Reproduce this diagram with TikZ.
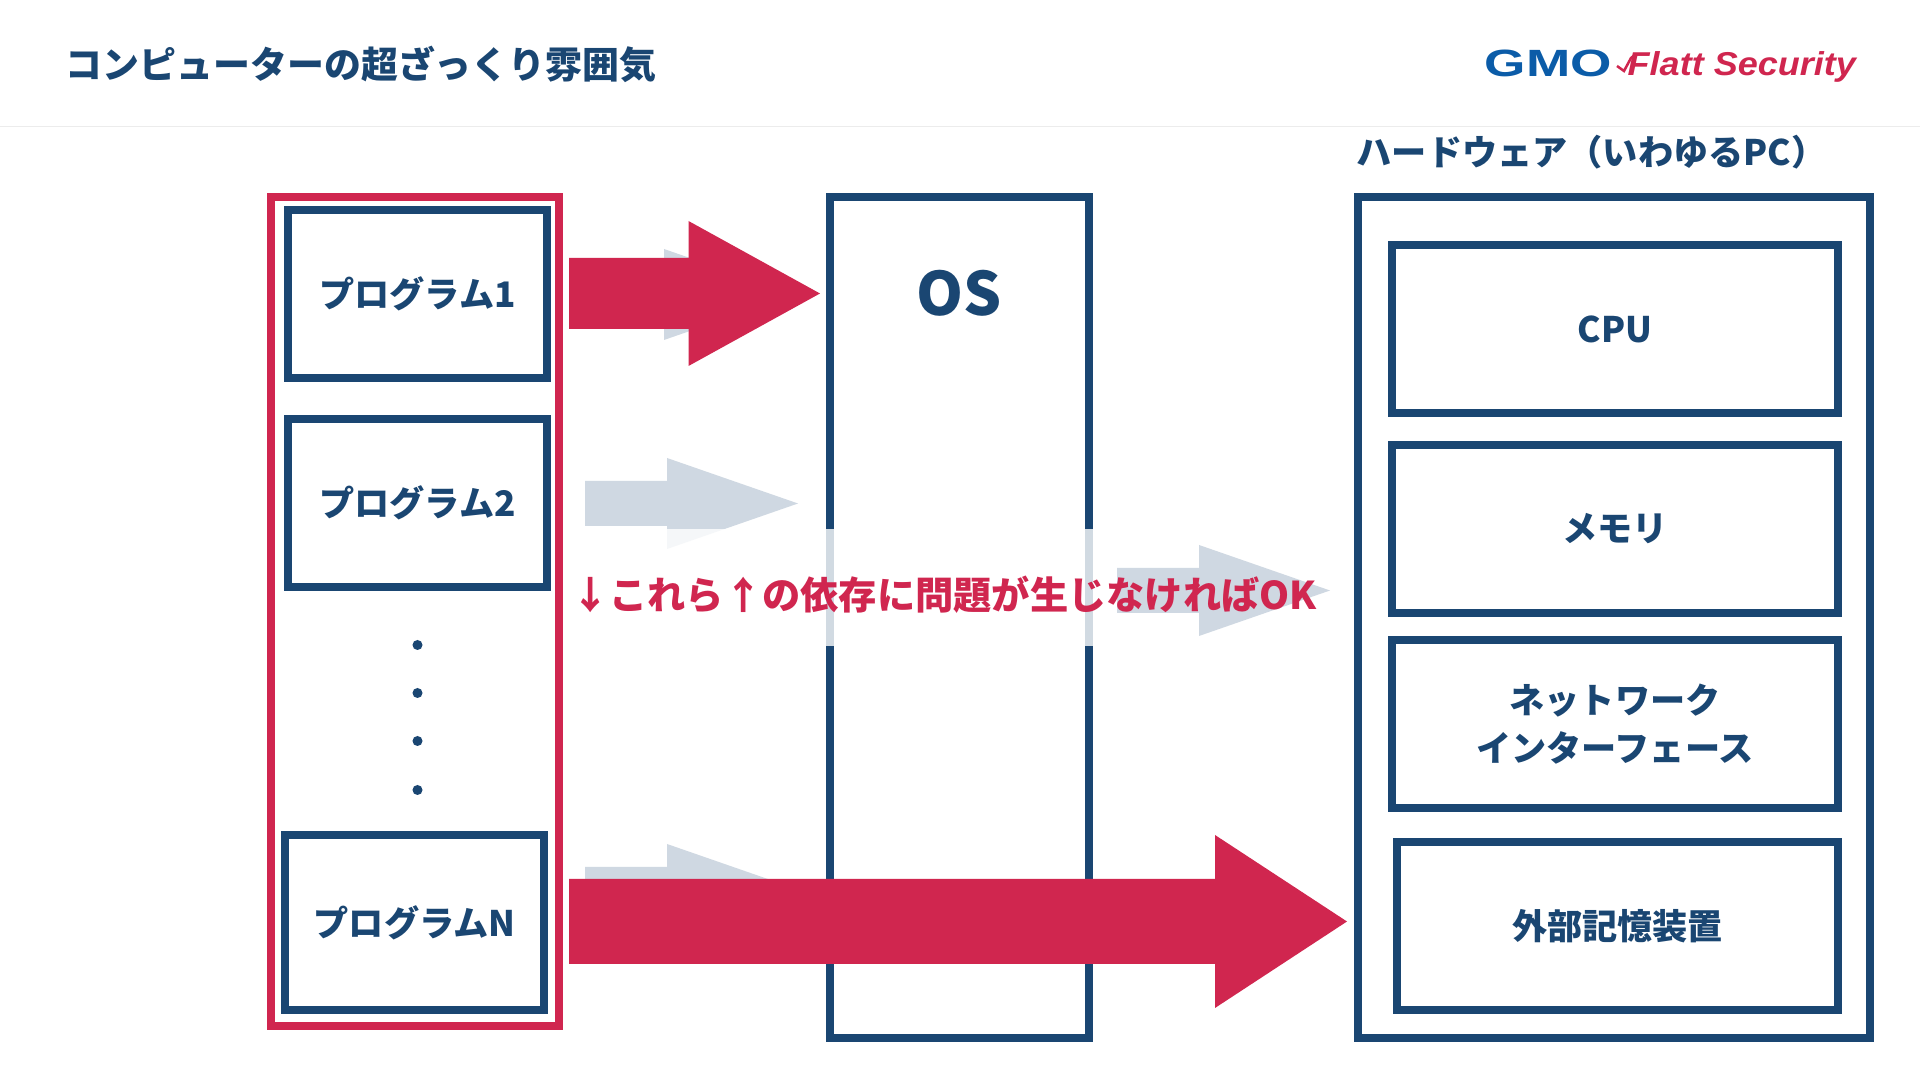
\documentclass[tikz,border=0pt]{standalone}
\usepackage{fontspec}
\usepackage{xcolor}
\setmainfont{Noto Sans CJK JP}
\newfontfamily\logofont{Liberation Sans}
\usetikzlibrary{positioning}
\definecolor{navy}{RGB}{26, 70, 114}
\definecolor{accent}{RGB}{208, 38, 79}
\definecolor{pale}{RGB}{207, 216, 226}
\definecolor{gmoblue}{RGB}{11, 92, 168}
\definecolor{headline}{RGB}{236, 236, 236}
\newcommand{\blockarrow}[7]{%
  \fill[#1] (#2,#3-#6) -- (#4,#3-#6) -- (#4,#3-#7) -- (#5,#3)
    -- (#4,#3+#7) -- (#4,#3+#6) -- (#2,#3+#6) -- cycle;}
\tikzset{
  box/.style={draw=navy, line width=0.08cm, inner sep=0pt, text=navy,
    font=\fontsize{10}{13.66}\selectfont\bfseries, align=center},
  label/.style={inner sep=0pt, text=navy, font=\fontsize{10}{13.66}\selectfont\bfseries},
  dot/.style={circle, fill=navy, inner sep=0pt, minimum size=0.1cm}
}

\begin{document}
\begin{tikzpicture}[x=0.01cm, y=-0.01cm]
  \useasboundingbox (0,0) rectangle (1920,1080);
  \fill[white] (0,0) rectangle (1920,1080);
  % header
  \node[label, anchor=west, font=\fontsize{10.5}{13}\selectfont\bfseries] (title) at (65,64) {コンピューターの超ざっくり雰囲気};
  \draw[headline, line width=0.01cm] (0,127) -- (1920,127);
  \node[anchor=west, inner sep=0pt, text=gmoblue, font=\fontsize{10.8}{12}\logofont\bfseries] (gmo) at (1484,63) {\scalebox{1.4}[1]{GMO}};
  \node[anchor=west, inner sep=0pt, text=accent, font=\fontsize{9.4}{12}\logofont\bfseries\itshape] (flatt) at (1627,67) {\scalebox{1.09}[1]{Flatt Security}};
  \draw[accent, line width=0.025cm] (1617,66) -- (1624,71) -- (1631,58) -- (1636,54);
  % grey arrows under everything
  \blockarrow{pale}{585}{294.5}{664}{795}{22}{45.5}
  \blockarrow{pale}{585}{503.5}{667}{798}{22.5}{45.5}
  \blockarrow{pale}{585}{889.5}{667}{798}{22.5}{45.5}
  % programs
  \node[draw=accent, line width=0.08cm, inner sep=0pt, minimum width=2.88cm, minimum height=8.29cm] (group) at (415,611.5) {};
  \node[box, minimum width=2.59cm, minimum height=1.68cm] (prog1) at (417.5,294) {プログラム1};
  \node[box, minimum width=2.59cm, minimum height=1.68cm] (prog2) at (417.5,503) {プログラム2};
  \node[box, minimum width=2.59cm, minimum height=1.75cm] (progn) at (414.5,922.5) {プログラムN};
  \node[dot] (dota) at (417.5,645) {};
  \node[dot] (dotb) at (417.5,693) {};
  \node[dot] (dotc) at (417.5,741) {};
  \node[dot] (dotd) at (417.5,790) {};
  % os
  \node[box, minimum width=2.585cm, minimum height=8.41cm] (os) at (959.25,617.5) {};
  \node[label, font=\fontsize{17}{20}\selectfont\bfseries] (oslabel) at (959.5,293) {OS};
  % hardware
  \node[label, anchor=west] (hwlabel) at (1356,152) {ハードウェア（いわゆるPC）};
  \node[box, minimum width=5.12cm, minimum height=8.41cm] (hw) at (1614,617.5) {};
  \node[box, minimum width=4.46cm, minimum height=1.68cm] (cpu) at (1615,329) {CPU};
  \node[box, minimum width=4.46cm, minimum height=1.68cm] (mem) at (1615,529) {メモリ};
  \node[box, minimum width=4.46cm, minimum height=1.68cm] (nic) at (1615,724) {ネットワーク\\インターフェース};
  \node[box, minimum width=4.41cm, minimum height=1.68cm] (disk) at (1617.5,926) {外部記憶装置};
  % white band, then note
  \fill[white, opacity=0.8] (570,529) rectangle (1100,646);
  \blockarrow{pale}{1117}{590.5}{1199}{1330}{22.5}{45.5}
  \node[inner sep=0pt, text=accent, font=\fontsize{10.88}{13}\selectfont\bfseries] (note) at (944,595) {↓これら↑の依存に問題が生じなければOK};
  % red arrows
  \blockarrow{accent}{569}{293.5}{688.5}{820}{35.5}{72.5}
  \blockarrow{accent}{569}{921.5}{1215}{1347}{42.5}{86.5}
\end{tikzpicture}
\end{document}
